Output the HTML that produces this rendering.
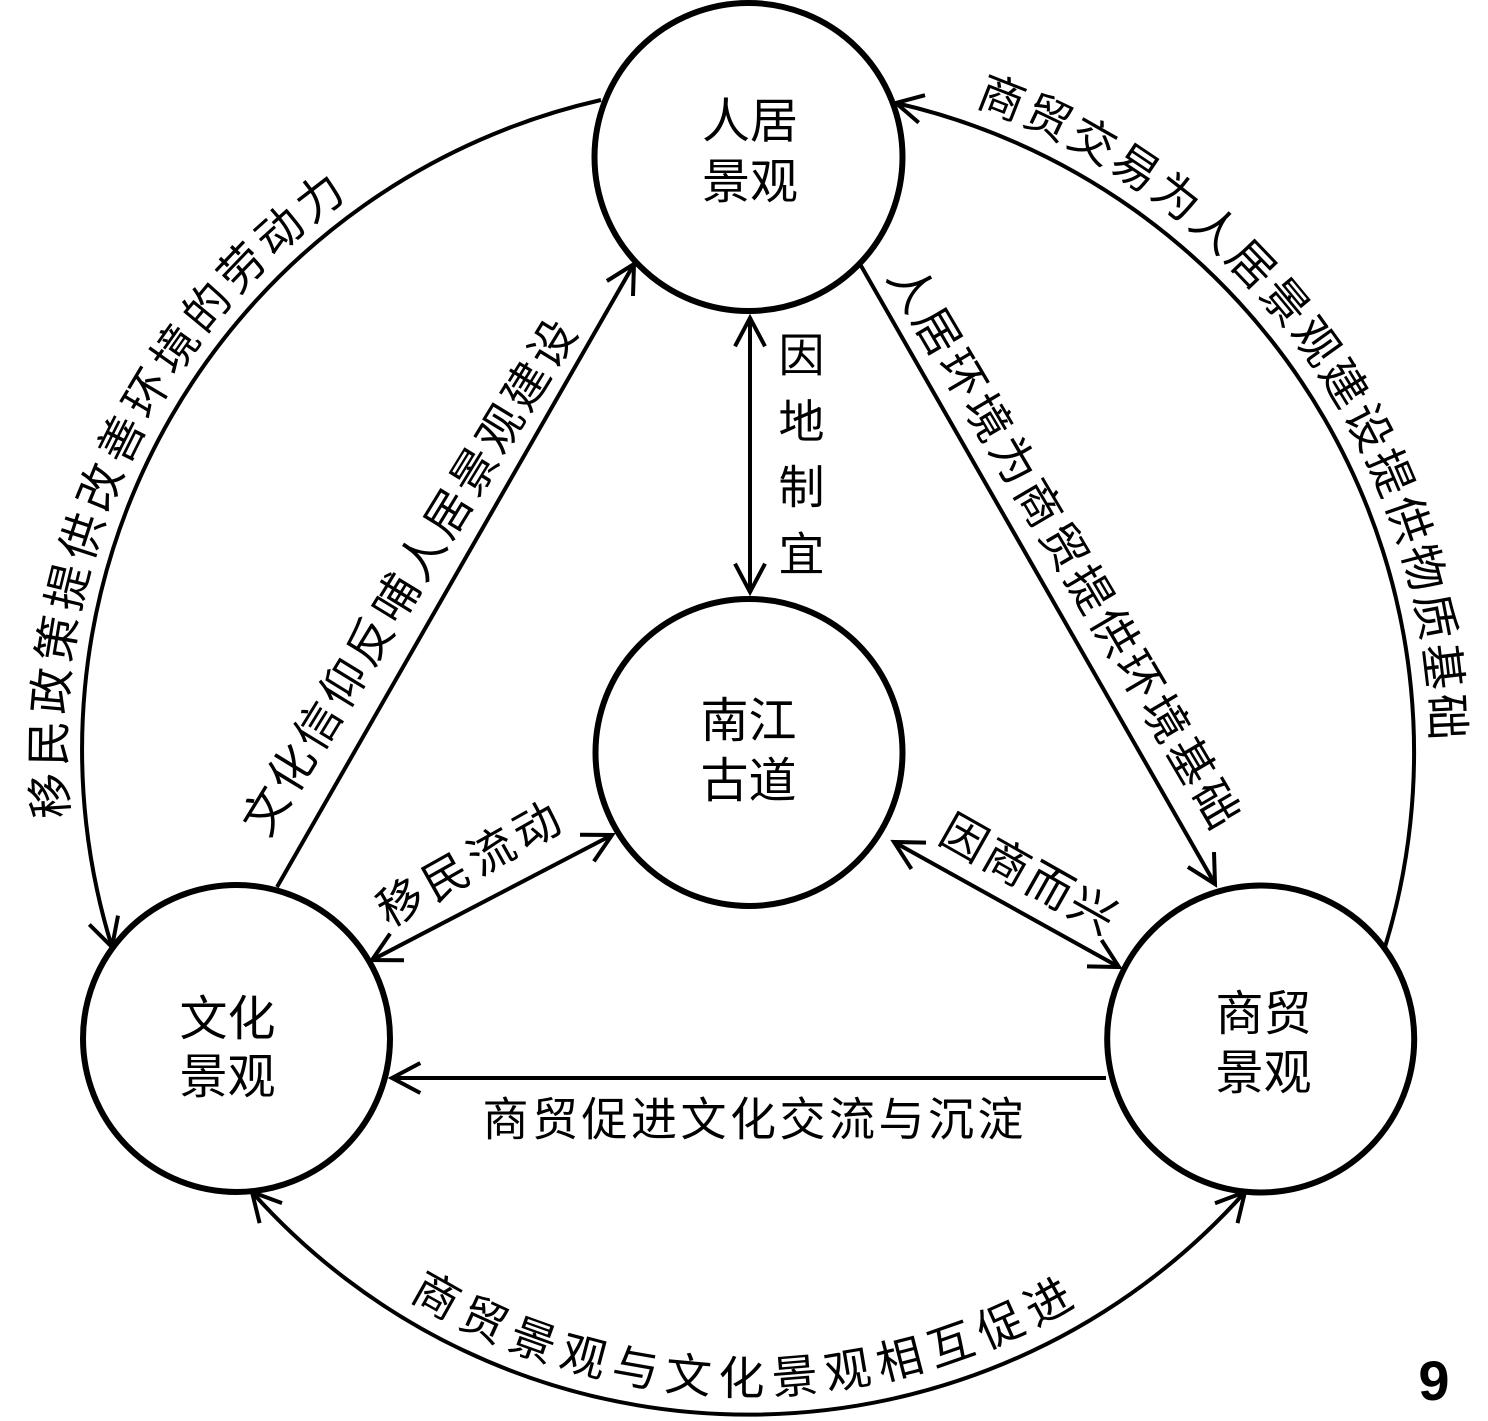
<!DOCTYPE html>
<html>
<head>
<meta charset="utf-8">
<style>
html,body{margin:0;padding:0;background:#fff;}
svg{display:block;}
text{font-family:"Liberation Sans","Noto Sans CJK SC",sans-serif;fill:#000;}
</style>
</head>
<body>
<svg width="1488" height="1421" viewBox="0 0 1488 1421" xmlns="http://www.w3.org/2000/svg">
<defs>
  <path id="pl" d="M 90.0 933.1 A 683 683 0 0 1 453.5 133.7"/>
  <path id="pr" d="M 894.8 82.4 A 683.5 683.5 0 0 1 1427.2 826.2"/>
  <path id="pb" d="M 290.7 1204.1 A 644.5 644.5 0 0 0 1202.1 1207.3"/>
</defs>
<rect x="0" y="0" width="1488" height="1421" fill="#fff"/>

<!-- node circles -->
<g fill="none" stroke="#000" stroke-width="6">
  <circle cx="748.5" cy="157" r="154"/>
  <circle cx="749" cy="752.5" r="153.5"/>
  <circle cx="236.5" cy="1038.5" r="153.5"/>
  <circle cx="1260.7" cy="1039" r="153.5"/>
</g>

<!-- connectors -->
<g fill="none" stroke="#000" stroke-width="4" stroke-linejoin="miter">
  <!-- outer arcs -->
  <path d="M 601 100 A 666 666 0 0 0 112 947"/>
  <path d="M 1385 947 A 666 666 0 0 0 896 103"/>
  <path d="M 252 1192 A 665 665 0 0 0 1245 1192"/>
  <!-- straight lines -->
  <line x1="277" y1="887" x2="634" y2="264"/>
  <line x1="860" y1="264" x2="1215" y2="884"/>
  <line x1="750" y1="318" x2="750" y2="592"/>
  <line x1="372" y1="960" x2="612" y2="835"/>
  <line x1="894" y1="842" x2="1119" y2="967"/>
  <line x1="1106" y1="1078" x2="392" y2="1078"/>

  <!-- arrowheads -->
  <polyline points="118,915.6 112,947 89.3,924.5"/>
  <polyline points="918.7,122.6 896,103 925,95.2"/>
  <polyline points="259.6,1223.1 252,1192 282,1203.1"/>
  <polyline points="1215,1203.2 1245,1192 1237.5,1223.1"/>
  <polyline points="606.9,281 634,264 633,296"/>
  <polyline points="1214,852 1215,884 1187.9,866.9"/>
  <polyline points="735,346.3 750,318 765,346.3"/>
  <polyline points="735,563.7 750,592 765,563.7"/>
  <polyline points="580,834.7 612,835 593.9,861.4"/>
  <polyline points="404,960.3 372,960 390.1,933.6"/>
  <polyline points="911.4,868.9 894,842 926,842.6"/>
  <polyline points="1101.6,940.1 1119,967 1087,966.4"/>
  <polyline points="420.3,1063 392,1078 420.3,1093"/>
</g>

<!-- node labels -->
<g font-size="48" text-anchor="middle">
  <text x="750" y="137.7">人居</text>
  <text x="750" y="198.2">景观</text>
  <text x="748.5" y="737.2">南江</text>
  <text x="748.5" y="797.2">古道</text>
  <text x="227.5" y="1035.2">文化</text>
  <text x="227.5" y="1093.2">景观</text>
  <text x="1263.5" y="1029.9">商贸</text>
  <text x="1263.5" y="1089.2">景观</text>
</g>

<!-- curved labels -->
<text font-size="46" letter-spacing="5.3" text-anchor="middle"><textPath href="#pl" startOffset="50%">移民政策提供改善环境的劳动力</textPath></text>
<text font-size="46" letter-spacing="3.2" text-anchor="middle"><textPath href="#pr" startOffset="50%">商贸交易为人居景观建设提供物质基础</textPath></text>
<text font-size="46" letter-spacing="8.6" text-anchor="middle"><textPath href="#pb" startOffset="50%">商贸景观与文化景观相互促进</textPath></text>

<!-- straight labels -->
<g font-size="46" text-anchor="middle">
  <text transform="translate(408,576.5) rotate(-58.5)" x="1.9" y="17.5" letter-spacing="3.8">文化信仰反哺人居景观建设</text>
  <text transform="translate(1065,545.5) rotate(59.5)" x="2" y="17.5" letter-spacing="3.9">人居环境为商贸提供环境基础</text>
  <text transform="translate(1029,873) rotate(29.5)" x="1.5" y="17.5" letter-spacing="3">因商而兴</text>
  <text transform="translate(468,863) rotate(-29.4)" x="3" y="17.5" letter-spacing="6">移民流动</text>
  <text x="754.75" y="1135.5" letter-spacing="3.5">商贸促进文化交流与沉淀</text>
  <text x="801.5" y="371.5">因</text>
  <text x="801.5" y="438">地</text>
  <text x="801.5" y="503.5">制</text>
  <text x="801.5" y="570.5">宜</text>
</g>

<text x="1434" y="1400" font-size="56" font-weight="bold" text-anchor="middle">9</text>
</svg>
</body>
</html>
